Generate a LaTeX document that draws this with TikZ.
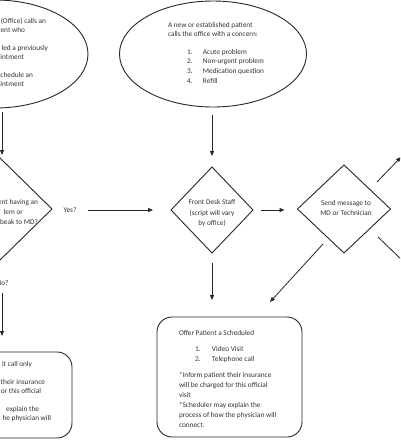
\documentclass[tikz,border=0pt]{standalone}
\usepackage{fontspec}
\setmainfont{Carlito}
\usetikzlibrary{arrows.meta,shapes.geometric}
\definecolor{linec}{HTML}{262626}
\definecolor{textc}{HTML}{333333}
\begin{document}
\begin{tikzpicture}[x=1pt,y=-1pt,
  every node/.style={inner sep=0pt, outer sep=0pt},
  shp/.style={draw=linec, line width=0.9pt},
  conn/.style={draw=linec, line width=0.8pt, -{Triangle[length=5pt,width=4pt]}},
  plainline/.style={draw=linec, line width=0.8pt},
  txt/.style={font=\fontsize{7.3}{10}\selectfont, text=textc},
  rt/.style={txt, anchor=base east},
  lt/.style={txt, anchor=base west, align=left},
]
\useasboundingbox (0,0) rectangle (400,440);
\clip (0,0) rectangle (400,440);

% shapes
\node[shp, ellipse, minimum width=186pt, minimum height=108pt] (le) at (-5,54) {};
\node[shp, ellipse, minimum width=187pt, minimum height=106pt] (me) at (213,54) {};
\node[shp, diamond, minimum width=104pt, minimum height=102pt] (ld) at (0,209) {};
\node[shp, diamond, minimum width=82pt, minimum height=86pt] (fd) at (212,210) {};
\node[shp, diamond, minimum width=93pt, minimum height=88pt] (sd) at (344,209) {};
\node[shp, rounded corners=15pt, minimum width=145pt, minimum height=120pt] (ob) at (229.5,377) {};
\node[shp, rounded corners=15pt, minimum width=160pt, minimum height=86pt] (lb) at (-8,395) {};

% left ellipse text
\node[rt] (le1) at (46,23) {(Office) calls an};
\node[rt] (le2) at (25,32) {ent who};
\node[rt] (le3) at (48,50) {led a previously};
\node[rt] (le4) at (24,59) {intment};
\node[rt] (le5) at (33,77) {chedule an};
\node[rt] (le6) at (24,86) {intment};

% middle ellipse text (base anchor = last line)
\node[lt, font=\fontsize{7.3}{9}\selectfont] (me1) at (168,36) {A new or established patient\\calls the office with a concern:};
\node[lt, font=\fontsize{7.3}{9.7}\selectfont] (me2) at (187,83.1) {\makebox[16pt][l]{1.}Acute problem\\\makebox[16pt][l]{2.}Non-urgent problem\\\makebox[16pt][l]{3.}Medication question\\\makebox[16pt][l]{4.}Refill};

% left diamond text
\node[rt] (ld1) at (38,204) {ent having an};
\node[rt] (ld2) at (23,214) {lem or};
\node[rt] (ld3) at (38,224) {beak to MD?};
\node[txt] (yes) at (70,210) {Yes?};
\node[rt] (no) at (8.5,285) {No?};

% front desk / send text
\node[txt, align=center, font=\fontsize{7.3}{10.5}\selectfont] (fdt) at (212,213.5) {Front Desk Staff\\(script will vary\\by office)};
\node[txt, align=center] (sdt) at (346,208) {Send message to\\MD or Technician};

% offer box text (base anchor = last line)
\node[lt] (ob1) at (179,335) {Offer Patient a Scheduled};
\node[lt] (ob2) at (195,361) {\makebox[17pt][l]{1.}Video Visit\\\makebox[17pt][l]{2.}Telephone call};
\node[lt] (ob3) at (179,427) {*Inform patient their insurance\\will be charged for this official\\visit\\*Scheduler may explain the\\process of how the physician will\\connect.};

% left box text
\node[rt] (lb1) at (32,366) {it call only};
\node[rt] (lb2) at (45,384) {their insurance};
\node[rt] (lb3) at (41,393) {or this official};
\node[rt] (lb4) at (39,411) {explain the};
\node[rt] (lb5) at (51,420) {he physician will};

% off-picture ends
\coordinate (ur) at (401,157);
\coordinate (dr) at (404,262);

% connectors
\draw[conn] ([xshift=7pt,yshift=-4pt]le.south) -- ([xshift=2pt,yshift=3pt]ld.north);
\draw[conn, shorten <=8pt, shorten >=11pt] ([xshift=-1pt]me.south) -- (fd.north);
\draw[conn, shorten <=12pt, shorten >=18pt] (yes.east |- fd.west) -- (fd.west);
\draw[conn, shorten <=8pt, shorten >=13pt] (fd.east) -- (fd.east -| sd.west);
\draw[conn, shorten <=10pt, shorten >=17pt] (fd.south) -- (fd.south |- ob.north);
\draw[conn] ([xshift=2.25pt,yshift=-13pt]sd.south west) -- ([xshift=-32pt,yshift=15pt]ob.north east);
\draw[conn] ([xshift=9.75pt,yshift=5pt]sd.north east) -- (ur);
\draw[plainline] ([xshift=10.75pt,yshift=-6pt]sd.south east) -- (dr);
\draw[conn] ([xshift=10pt,yshift=59pt]lb.north) -- ([xshift=10pt,yshift=16pt]lb.north);
\end{tikzpicture}
\end{document}
